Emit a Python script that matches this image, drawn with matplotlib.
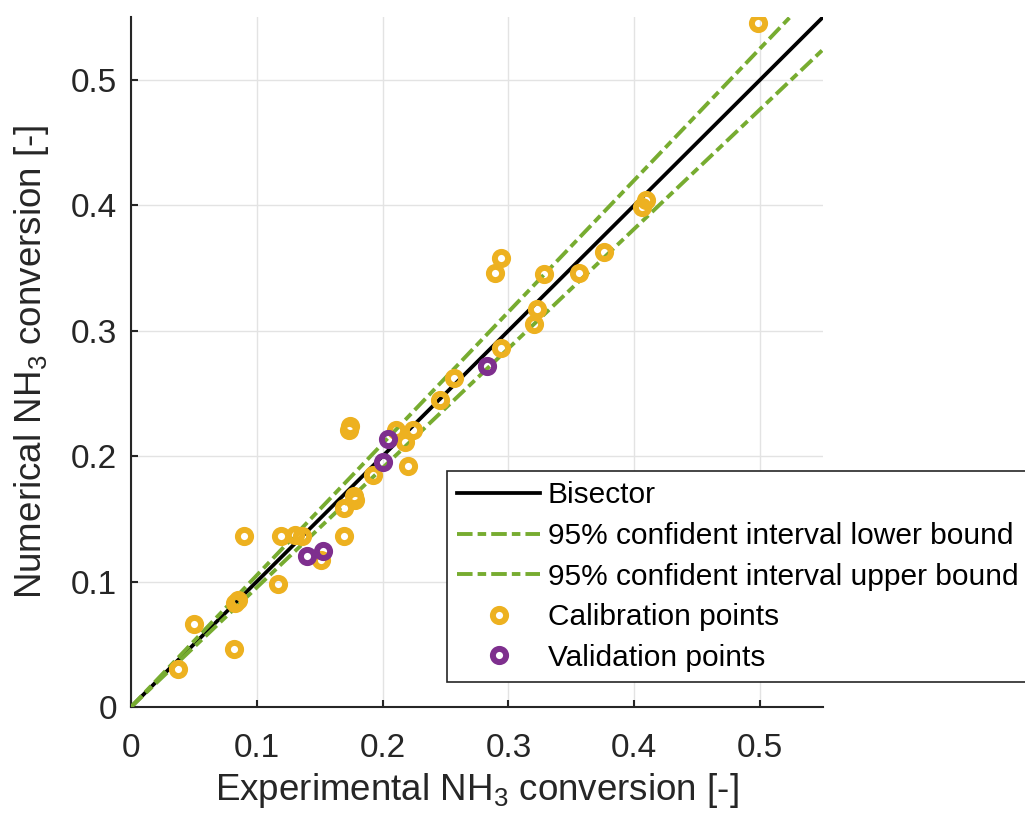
import numpy as np
import matplotlib
matplotlib.use('Agg')
import matplotlib.pyplot as plt

plt.rcParams['font.family'] = ['Liberation Sans', 'DejaVu Sans']
plt.rcParams['mathtext.default'] = 'regular'

# calibration points (experimental, numerical)
cal_exp = [0.498, 0.409, 0.406, 0.376, 0.356, 0.328, 0.323, 0.320, 0.294, 0.289,
           0.294, 0.257, 0.246, 0.224, 0.211, 0.218, 0.220, 0.174, 0.173, 0.192,
           0.178, 0.177, 0.169, 0.169, 0.151, 0.090, 0.119, 0.130, 0.136, 0.117,
           0.083, 0.085, 0.050, 0.082, 0.037]
cal_num = [0.545, 0.404, 0.399, 0.363, 0.346, 0.345, 0.317, 0.305, 0.358, 0.346,
           0.286, 0.262, 0.245, 0.221, 0.221, 0.211, 0.192, 0.224, 0.221, 0.185,
           0.165, 0.168, 0.159, 0.136, 0.117, 0.136, 0.136, 0.137, 0.136, 0.098,
           0.083, 0.085, 0.066, 0.046, 0.030]

# validation points
val_exp = [0.283, 0.204, 0.200, 0.153, 0.140]
val_num = [0.272, 0.214, 0.195, 0.124, 0.120]

# slopes of the 95% interval bounds
slope_lower = 0.953
slope_upper = 1.05

yellow = '#EDB120'
purple = '#7E2F8E'
green = '#77AC30'
dark = '#262626'

fig = plt.figure(figsize=(10.25, 8.16), dpi=100)
ax = fig.add_axes([0.1278, 0.1336, 0.8029 - 0.1278, 0.979 - 0.1336])

xx = np.array([0, 0.55])
dashdot = (0, (4.0, 1.3, 2.2, 1.3))
ax.plot(xx, xx, color='black', lw=2.7, label='Bisector', zorder=3)
ax.plot(xx, slope_lower * xx, color=green, lw=2.8, ls=dashdot,
        label='95% confident interval lower bound', zorder=4)
ax.plot(xx, slope_upper * xx, color=green, lw=2.8, ls=dashdot,
        label='95% confident interval upper bound', zorder=4)
ax.plot(cal_exp, cal_num, 'o', ls='none', ms=9.5, mew=4.3, mec=yellow, mfc='none',
        label='Calibration points', zorder=5)
ax.plot(val_exp, val_num, 'o', ls='none', ms=9.5, mew=4.3, mec=purple, mfc='none',
        label='Validation points', zorder=6)

ax.set_xlim(0, 0.55)
ax.set_ylim(0, 0.55)
ticks = [0, 0.1, 0.2, 0.3, 0.4, 0.5]
ax.set_xticks(ticks)
ax.set_yticks(ticks)
ax.set_xticklabels(['0', '0.1', '0.2', '0.3', '0.4', '0.5'])
ax.set_yticklabels(['0', '0.1', '0.2', '0.3', '0.4', '0.5'])
ax.grid(True, color='#e3e3e3', lw=1)
ax.set_axisbelow(True)

for s in ['top', 'right']:
    ax.spines[s].set_visible(False)
for s in ['left', 'bottom']:
    ax.spines[s].set_color(dark)
    ax.spines[s].set_linewidth(1.5)

ax.tick_params(direction='in', length=5, width=1.5, color=dark,
               labelcolor=dark, labelsize=24)
ax.tick_params(axis='x', pad=19)
ax.tick_params(axis='y', pad=10)

ax.set_xlabel('Experimental NH$_3$ conversion [-]', fontsize=26.5, color=dark, labelpad=5)
ax.set_ylabel('Numerical NH$_3$ conversion [-]', fontsize=26.5, color=dark, labelpad=14)

leg = ax.legend(loc='upper left', bbox_to_anchor=(447 / 1025, 1 - 471 / 816),
                bbox_transform=fig.transFigure, fontsize=21.5, frameon=True,
                fancybox=False, edgecolor=dark, framealpha=1,
                handlelength=2.75, handletextpad=0.27, labelspacing=0.42,
                borderpad=0.35, borderaxespad=0)
leg.get_frame().set_linewidth(1.2)
leg.set_zorder(10)

fig.savefig('out.png', dpi=100)
